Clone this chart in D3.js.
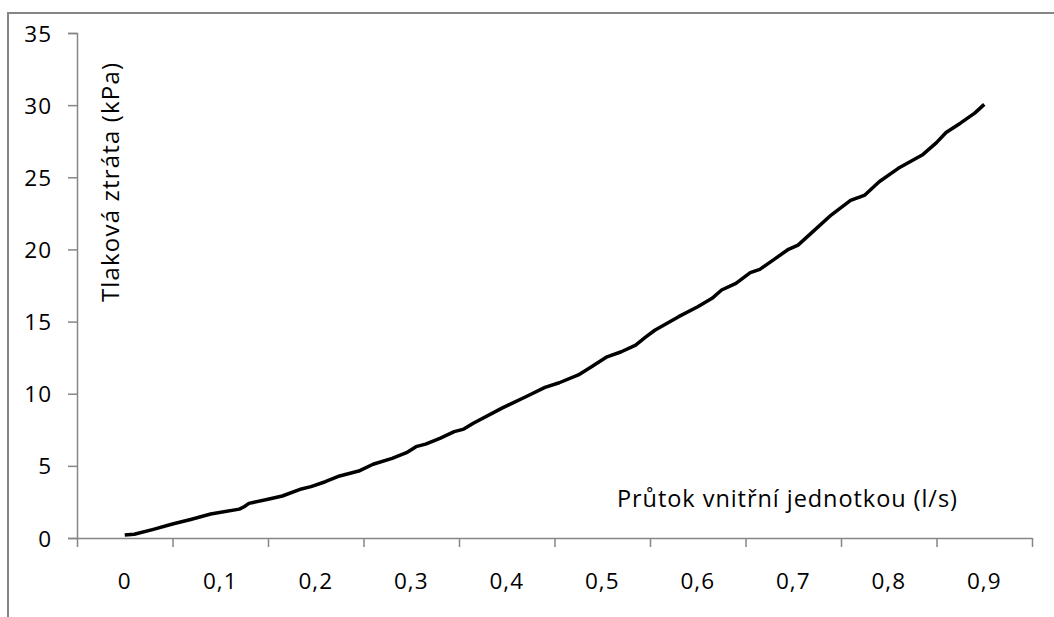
<!DOCTYPE html>
<html><head><meta charset="utf-8">
<script src="https://cdn.jsdelivr.net/npm/d3@7"></script>
<style>html,body{margin:0;padding:0;background:#fff;}svg{display:block;}</style>
</head><body>
<svg id="c" width="1054" height="617"></svg>
<script>
const flow = [0, 0.01, 0.03, 0.05, 0.07, 0.09, 0.12, 0.125, 0.13, 0.15, 0.165, 0.185, 0.195, 0.21, 0.225, 0.245, 0.26, 0.28, 0.295, 0.305, 0.315, 0.33, 0.345, 0.355, 0.365, 0.395, 0.42, 0.44, 0.455, 0.475, 0.49, 0.505, 0.52, 0.535, 0.545, 0.555, 0.58, 0.60, 0.615, 0.625, 0.64, 0.655, 0.665, 0.68, 0.695, 0.705, 0.72, 0.74, 0.76, 0.775, 0.79, 0.81, 0.835, 0.85, 0.86, 0.875, 0.89, 0.90];
const pressure = [0.2, 0.26, 0.6, 0.97, 1.3, 1.66, 2.0, 2.17, 2.4, 2.68, 2.91, 3.4, 3.56, 3.9, 4.3, 4.64, 5.11, 5.52, 5.91, 6.33, 6.51, 6.91, 7.37, 7.55, 7.95, 9.0, 9.79, 10.44, 10.76, 11.3, 11.92, 12.56, 12.91, 13.37, 13.9, 14.4, 15.34, 16.03, 16.61, 17.19, 17.65, 18.39, 18.62, 19.31, 20.01, 20.3, 21.2, 22.4, 23.4, 23.77, 24.69, 25.62, 26.54, 27.4, 28.1, 28.75, 29.45, 30.05];
const xTickLabels = ["0", "0,1", "0,2", "0,3", "0,4", "0,5", "0,6", "0,7", "0,8", "0,9"];
const yTicks = [0, 5, 10, 15, 20, 25, 30, 35];
const xTitle = "Průtok vnitřní jednotkou (l/s)";
const yTitle = "Tlaková ztráta (kPa)";

const svg = d3.select("#c");
const font = "'Open Sans', sans-serif";
const axisColor = "#868686";

// outer frame (extends past the picture on right/bottom)
svg.append("rect").attr("x", 8).attr("y", 13).attr("width", 1100).attr("height", 700)
  .attr("fill", "none").attr("stroke", axisColor).attr("stroke-width", 2);

const x = d3.scaleLinear().domain([-0.05, 0.95]).range([77, 1032]);
const y = d3.scaleLinear().domain([0, 35]).range([538, 33]);

// y axis
const yAxis = svg.append("g").attr("transform", "translate(77,0)")
  .call(d3.axisLeft(y).tickValues(yTicks).tickSize(9).tickPadding(16).tickFormat(d3.format("d")));
yAxis.select(".domain").attr("stroke", axisColor).attr("stroke-width", 1.5);
yAxis.selectAll(".tick line").attr("stroke", axisColor).attr("stroke-width", 1.5);
yAxis.selectAll(".tick text").attr("font-family", font).attr("font-size", 22.5).attr("fill", "#000")
  .attr("letter-spacing", 1).attr("dy", "0.36em");

// x axis: ticks between categories, labels at category centres
const tickPos = d3.range(11).map(i => -0.05 + i * 0.1);
const xAxis = svg.append("g").attr("transform", "translate(0,538)")
  .call(d3.axisBottom(x).tickValues(tickPos).tickSize(9).tickSizeOuter(0).tickFormat(""));
xAxis.select(".domain").attr("stroke", axisColor).attr("stroke-width", 1.5);
xAxis.selectAll(".tick line").attr("stroke", axisColor).attr("stroke-width", 1.5);

svg.append("g").selectAll("text").data(xTickLabels).join("text")
  .attr("x", (d, i) => x(i / 10)).attr("y", 589)
  .attr("text-anchor", "middle").attr("font-family", font).attr("font-size", 22.5)
  .attr("letter-spacing", 1)
  .text(d => d);

// line
const pts = flow.map((f, i) => [f, pressure[i]]);
svg.append("path").datum(pts)
  .attr("d", d3.line().x(d => x(d[0])).y(d => y(d[1])))
  .attr("fill", "none").attr("stroke", "#000").attr("stroke-width", 3.5)
  .attr("stroke-linejoin", "round");

// titles
svg.append("text").attr("x", 617).attr("y", 507).attr("font-family", font).attr("font-size", 23.5)
  .attr("textLength", 340).attr("lengthAdjust", "spacing")
  .text(xTitle);
svg.append("text").attr("transform", "translate(119,302) rotate(-90)")
  .attr("font-family", font).attr("font-size", 24)
  .attr("textLength", 239).attr("lengthAdjust", "spacing")
  .text(yTitle);
</script>
</body></html>
